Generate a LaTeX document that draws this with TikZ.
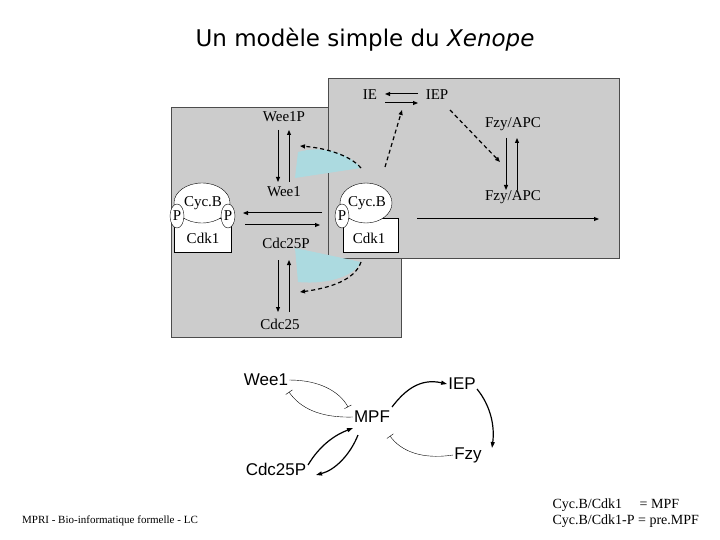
\documentclass[tikz,border=0pt]{standalone}
\usepackage{fontspec}
\setmainfont{Liberation Serif}
\newfontfamily\arialf{Liberation Sans}
\newfontfamily\titlef{DejaVu Sans}
\usetikzlibrary{arrows.meta}
\definecolor{wedgec}{RGB}{172,218,224}
\begin{document}
\begin{tikzpicture}[x=1pt,y=-1pt,
  panel/.style={fill=black!20,draw=black!70,line width=0.6pt},
  lbl/.style={font=\fontsize{15}{15}\selectfont,inner sep=0pt},
  blbl/.style={font=\arialf\fontsize{17}{17}\selectfont,inner sep=1pt},
  arr/.style={-{Triangle[length=5pt,width=4pt]},line width=1pt},
  darr/.style={-{Triangle[length=5pt,width=4pt]},line width=1.2pt,dash pattern=on 4pt off 3pt},
  inh/.style={-{Bar[width=8pt]},line width=0.4pt},
  act/.style={-{Triangle[length=6pt,width=4pt]},line width=1.2pt}]
\useasboundingbox (0,0) rectangle (720,540);
\node[font=\titlef\fontsize{23}{23}\selectfont] (title) at (365,40) {Un modèle simple du \textit{Xenope}};
% panels
\draw[panel] (171,107) rectangle (401,337);
\draw[panel] (328,78) rectangle (619,258);
\fill[wedgec] (298,152) -- (295,178) -- (361,168) .. controls (345,150) and (320,146) .. cycle;
\fill[wedgec] (295,248) -- (298,282) .. controls (330,285) and (355,275) .. (361,262) -- cycle;
% left complex
\draw[fill=white] (174,218) rectangle (231,252);
\draw[fill=white] (202,203) ellipse (28 and 20);
\draw[fill=white] (177,216) ellipse (7 and 12);
\draw[fill=white] (228,216) ellipse (7 and 12);
\node[lbl] (cycL) at (203,203) {Cyc.B};
\node[lbl] (cdkL) at (203,238) {Cdk1};
\node[lbl] (pL1) at (177,216) {P};
\node[lbl] (pL2) at (228,216) {P};
% right complex
\draw[fill=white] (343,218) rectangle (398,252);
\draw[fill=white] (366,203) ellipse (26 and 20);
\draw[fill=white] (342,216) ellipse (7 and 12);
\node[lbl] (cycR) at (367,203) {Cyc.B};
\node[lbl] (cdkR) at (369,238) {Cdk1};
\node[lbl] (pR) at (342,216) {P};
% labels
\node[lbl] (wee1p) at (284,117) {Wee1P};
\node[lbl] (wee1) at (284,192) {Wee1};
\node[lbl] (cdc25p) at (286,243) {Cdc25P};
\node[lbl] (cdc25) at (280,324) {Cdc25};
\node[lbl] (ie) at (370,95) {IE};
\node[lbl] (iep) at (437,95) {IEP};
\node[lbl] (fzy1) at (513,124) {Fzy/APC};
\node[lbl] (fzy2) at (513,197) {Fzy/APC};
% arrows
\draw[arr] (278,130) -- (278,182);
\draw[arr] (289,182) -- (289,130);
\draw[arr] (278,260) -- (278,312);
\draw[arr] (289,312) -- (289,260);
\draw[arr] (322,213) -- (243,213);
\draw[arr] (245,225) -- (320,225);
\draw[arr] (417,219) -- (599,219);
\draw[arr] (418,94) -- (385,94);
\draw[arr] (385,103) -- (418,103);
\draw[arr] (506,138) -- (506,190);
\draw[arr] (517,190) -- (517,138);
\draw[darr] (385,167) -- (402,110);
\draw[darr] (450,110) -- (500,162);
\draw[darr] (361,168) .. controls (350,155) and (325,148) .. (300,146);
\draw[darr] (361,262) .. controls (355,280) and (330,288) .. (300,292);
% bottom graph
\node[blbl] (bw) at (266,380) {Wee1};
\node[blbl] (biep) at (462,384) {IEP};
\node[blbl] (bmpf) at (372,417) {MPF};
\node[blbl] (bfzy) at (468,455) {Fzy};
\node[blbl] (bcdc) at (276,469) {Cdc25P};
\draw[inh] (bw.east) .. controls (320,380) and (340,392) .. (348,407);
\draw[inh] (bmpf.west) .. controls (320,418) and (300,408) .. (289,392);
\draw[inh] (bfzy.west) .. controls (420,460) and (400,450) .. (390,436);
\draw[act] (392,407) .. controls (405,390) and (420,378) .. (biep.west);
\draw[act] (477,389) .. controls (490,405) and (495,425) .. (492,448);
\draw[act] (358,435) .. controls (350,455) and (335,470) .. (316,475);
\draw[act] (308,465) .. controls (320,445) and (335,435) .. (353,428);
% footer
\node[font=\fontsize{11}{11}\selectfont] (foot) at (110,521) {MPRI - Bio-informatique formelle - LC};
\node[font=\fontsize{14}{16}\selectfont,align=left,anchor=west] (legend) at (549,513) {Cyc.B/Cdk1\quad\ = MPF\\Cyc.B/Cdk1-P = pre.MPF};
\end{tikzpicture}
\end{document}
